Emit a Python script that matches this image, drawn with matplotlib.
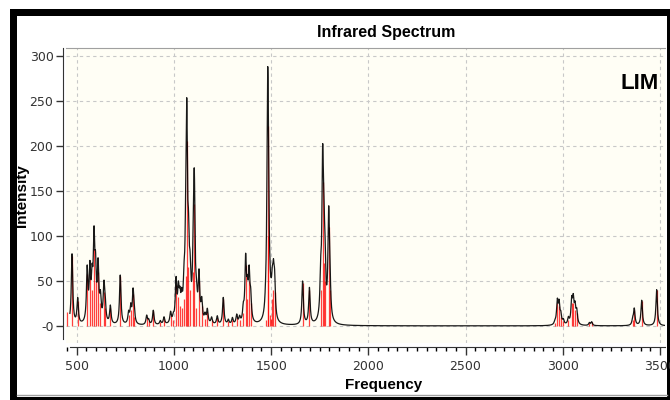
import numpy as np
import matplotlib
matplotlib.use("Agg")
import matplotlib.pyplot as plt
from matplotlib import font_manager
from matplotlib.patches import Rectangle
from matplotlib.lines import Line2D

# stick spectrum (cm-1, intensity)
freqs = [452, 476, 505, 554, 568, 579, 589, 597, 610, 622, 640, 646, 673, 724,
         767, 778, 790, 796, 860, 870, 894, 930, 949, 983, 997, 1011, 1023,
         1031, 1040, 1052, 1061, 1066, 1075, 1083, 1100, 1105, 1116, 1129, 1143,
         1160, 1172, 1194, 1223, 1254, 1280, 1301, 1323, 1338, 1357, 1369, 1378,
         1387, 1395, 1472, 1482, 1486, 1494, 1500, 1506, 1512, 1518, 1662, 1697,
         1755, 1765, 1771, 1777, 1796, 1802, 2960, 2972, 2981, 2990, 3003, 3029,
         3046, 3054, 3063, 3072, 3137, 3149, 3360, 3368, 3406, 3483]
intens = [15, 78, 28, 58, 55, 40, 85, 50, 60, 25, 38, 20, 20, 55,
          12, 18, 35, 10, 10, 5, 16, 4, 8, 12, 6, 45, 32,
          22, 20, 30, 55, 205, 65, 40, 60, 135, 20, 50, 22,
          8, 15, 7, 9, 30, 5, 7, 10, 7, 14, 68, 30,
          50, 25, 6, 222, 100, 12, 8, 30, 40, 38, 48, 40,
          40, 160, 70, 50, 110, 40, 3, 25, 22, 10, 5, 7,
          25, 25, 18, 14, 3, 4, 6, 18, 28, 40]
hwhm = 4.5

yticks = [0, 50, 100, 150, 200, 250, 300]
ytick_labels = ["-0", "50", "100", "150", "200", "250", "300"]
xticks = [500, 1000, 1500, 2000, 2500, 3000, 3500]
xtick_labels = ["500", "1000", "1500", "2000", "2500", "3000", "3500"]

installed = {f.name for f in font_manager.fontManager.ttflist}
if "Liberation Sans Narrow" in installed:
    narrow = ["Liberation Sans Narrow", "DejaVu Sans"]
    tick_size, title_size = 10, 13
else:
    narrow = ["Liberation Sans", "DejaVu Sans"]
    tick_size, title_size = 9, 11.5

# broadened curve from the sticks
f = np.array(freqs, dtype=float)
a = np.array(intens, dtype=float)
grid = np.arange(465, 3530, 0.5)
curve = (a[None, :] / (1 + ((grid[:, None] - f[None, :]) / hwhm) ** 2)).sum(axis=1)

W, H = 670, 400
fig = plt.figure(figsize=(W / 100, H / 100), dpi=100)

# black frame round the picture
fig.patches.append(Rectangle((10 / W, 0), 1 - 10 / W, 1 - 9 / H, transform=fig.transFigure,
                             facecolor="black", edgecolor="none", zorder=-10))
fig.patches.append(Rectangle((17 / W, 3 / H), 650 / W, 381 / H, transform=fig.transFigure,
                             facecolor="white", edgecolor="none", zorder=-9))
fig.lines.append(Line2D([17 / W, 667 / W], [5 / H, 5 / H], transform=fig.transFigure,
                        color="#a0a0a0", lw=1))

ax = fig.add_axes([66 / W, 1 - 343 / H, (665 - 66) / W, (343 - 48) / H])
ax.set_facecolor("#fffef5")

ax.vlines(freqs, 0, intens, color="#ff0000", alpha=0.75, lw=0.9, zorder=3)
ax.plot(grid, curve, color="black", lw=0.9, alpha=0.9, zorder=4)

ax.set_xlim(445, 3526)
ax.set_ylim(-19, 308.5)

ax.set_yticks(yticks)
ax.set_yticklabels(ytick_labels)
ax.set_xticks(xticks)
ax.set_xticklabels(xtick_labels)
ax.set_xticks(np.arange(450, 3550, 50), minor=True)
ax.tick_params(axis="both", labelsize=tick_size, labelcolor="#333333", color="#333333")
ax.tick_params(axis="y", length=5, width=1, pad=2)
ax.tick_params(axis="x", which="major", length=6, width=1)
ax.tick_params(axis="x", which="minor", length=3, width=1)
for lab in ax.get_xticklabels() + ax.get_yticklabels():
    lab.set_family(narrow)

ax.grid(True, which="major", color="#c8c8c8", ls=(0, (3, 3)), lw=0.8, zorder=0)
ax.set_axisbelow(True)

ax.spines["right"].set_visible(False)
ax.spines["top"].set_color("#a0a0a0")
ax.spines["left"].set_position(("outward", 2))
ax.spines["left"].set_bounds(-15, 308.5)
ax.spines["bottom"].set_position(("outward", 3))
ax.spines["bottom"].set_bounds(466, 3526)
ax.spines["left"].set_color("#333333")
ax.spines["bottom"].set_color("#333333")

ax.set_ylabel("Intensity", fontsize=11, fontweight="bold", family=narrow)
ax.yaxis.set_label_coords(-0.062, 0.5)
ax.set_xlabel("Frequency", fontsize=11, fontweight="bold", family=narrow)
ax.xaxis.set_label_coords(0.531, -0.12)

fig.text(386 / W, 1 - 32 / H, "Infrared Spectrum", ha="center", va="center",
         fontsize=title_size, fontweight="bold", family=narrow)
ax.text(0.99, 0.88, "LIM", transform=ax.transAxes, ha="right", va="center",
        fontsize=16, fontweight="bold", family=["Liberation Sans", "DejaVu Sans"])

fig.savefig("out.png", dpi=100)
